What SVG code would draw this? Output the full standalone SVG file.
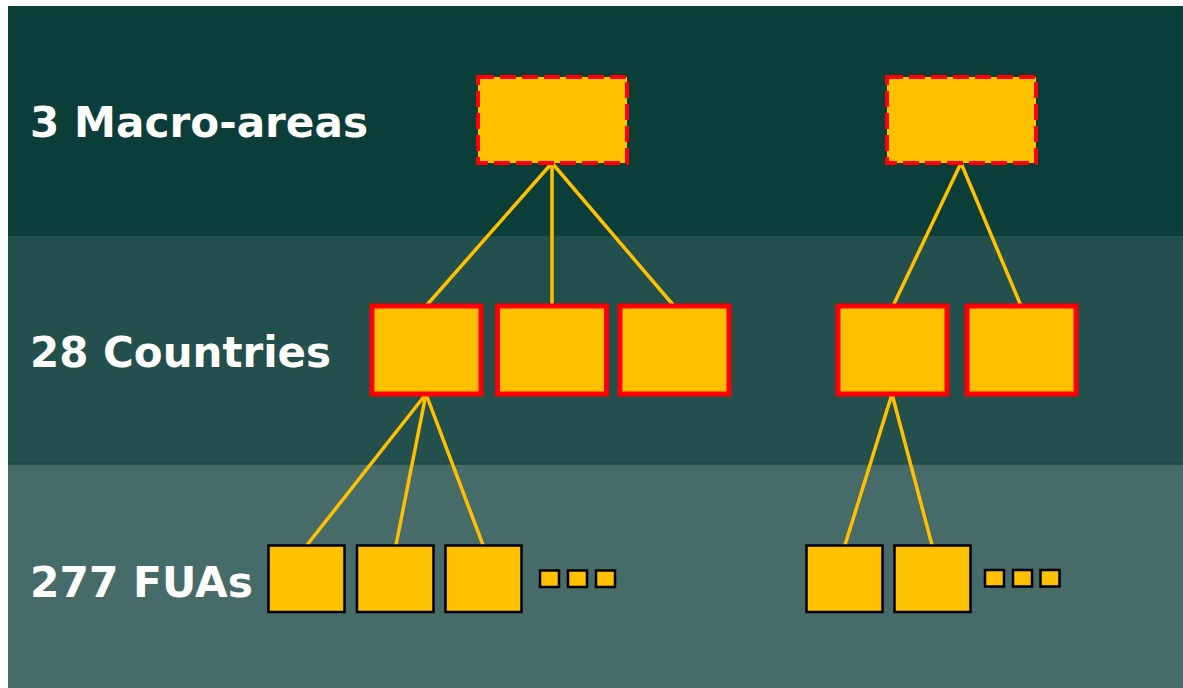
<svg xmlns="http://www.w3.org/2000/svg" width="1183" height="688" viewBox="0 0 1183 688">
<style>
.lbl{font-family:"DejaVu Sans",Verdana,sans-serif;font-weight:bold;font-size:42px;fill:#ffffff}
.macro{fill:#ffc000;stroke:#ff0000;stroke-width:4;stroke-dasharray:16 6}
.country{fill:#ffc000;stroke:#ff0000;stroke-width:5}
.fua{fill:#ffc000;stroke:#000000;stroke-width:2.5}
.conn line{stroke:#ffc000;stroke-width:3.5}
</style>
<rect x="0" y="0" width="1183" height="688" fill="#ffffff"/>
<rect x="8" y="6" width="1175" height="230" fill="#0b3d39"/>
<rect x="8" y="236" width="1175" height="228" fill="#234f4d"/>
<rect x="8" y="464" width="1175" height="224" fill="#476b69"/>
<line x1="8" y1="464" x2="1183" y2="464" stroke="#1c4643" stroke-width="1.5"/>
<text class="lbl" x="30" y="137" textLength="338" lengthAdjust="spacingAndGlyphs">3 Macro-areas</text>
<text class="lbl" x="30" y="367" textLength="301" lengthAdjust="spacingAndGlyphs">28 Countries</text>
<text class="lbl" x="30" y="597" textLength="223" lengthAdjust="spacingAndGlyphs">277 FUAs</text>
<g class="conn" id="connectors">
<line x1="552" y1="163" x2="426" y2="306"/>
<line x1="552" y1="163" x2="552" y2="306"/>
<line x1="552" y1="163" x2="674" y2="306"/>
<line x1="961" y1="163" x2="893" y2="306"/>
<line x1="961" y1="163" x2="1021" y2="306"/>
<line x1="426" y1="394" x2="307" y2="545"/>
<line x1="426" y1="394" x2="396" y2="545"/>
<line x1="426" y1="394" x2="483" y2="545"/>
<line x1="892" y1="394" x2="845" y2="545"/>
<line x1="892" y1="394" x2="932" y2="545"/>
</g>
<g id="macro1"><rect class="macro" x="478" y="77" width="149" height="86"/></g>
<g id="macro2"><rect class="macro" x="887" y="77" width="149" height="86"/></g>
<g id="country1"><rect class="country" x="372" y="306" width="109" height="88"/></g>
<g id="country2"><rect class="country" x="497.5" y="306" width="109" height="88"/></g>
<g id="country3"><rect class="country" x="620" y="306" width="109" height="88"/></g>
<g id="country4"><rect class="country" x="838" y="306" width="109" height="88"/></g>
<g id="country5"><rect class="country" x="967" y="306" width="109" height="88"/></g>
<g id="fua1"><rect class="fua" x="268.5" y="545.5" width="76" height="66.5"/></g>
<g id="fua2"><rect class="fua" x="357" y="545.5" width="76.5" height="66.5"/></g>
<g id="fua3"><rect class="fua" x="445.5" y="545.5" width="76" height="66.5"/></g>
<g id="fua-more1"><rect class="fua" x="540" y="570.5" width="19" height="16.5"/><rect class="fua" x="568" y="570.5" width="19" height="16.5"/><rect class="fua" x="596" y="570.5" width="19" height="16.5"/></g>
<g id="fua4"><rect class="fua" x="806.5" y="545.5" width="76" height="66.5"/></g>
<g id="fua5"><rect class="fua" x="894.5" y="545.5" width="76" height="66.5"/></g>
<g id="fua-more2"><rect class="fua" x="985" y="570" width="19" height="16.5"/><rect class="fua" x="1013" y="570" width="19" height="16.5"/><rect class="fua" x="1040.5" y="570" width="19" height="16.5"/></g>
</svg>
